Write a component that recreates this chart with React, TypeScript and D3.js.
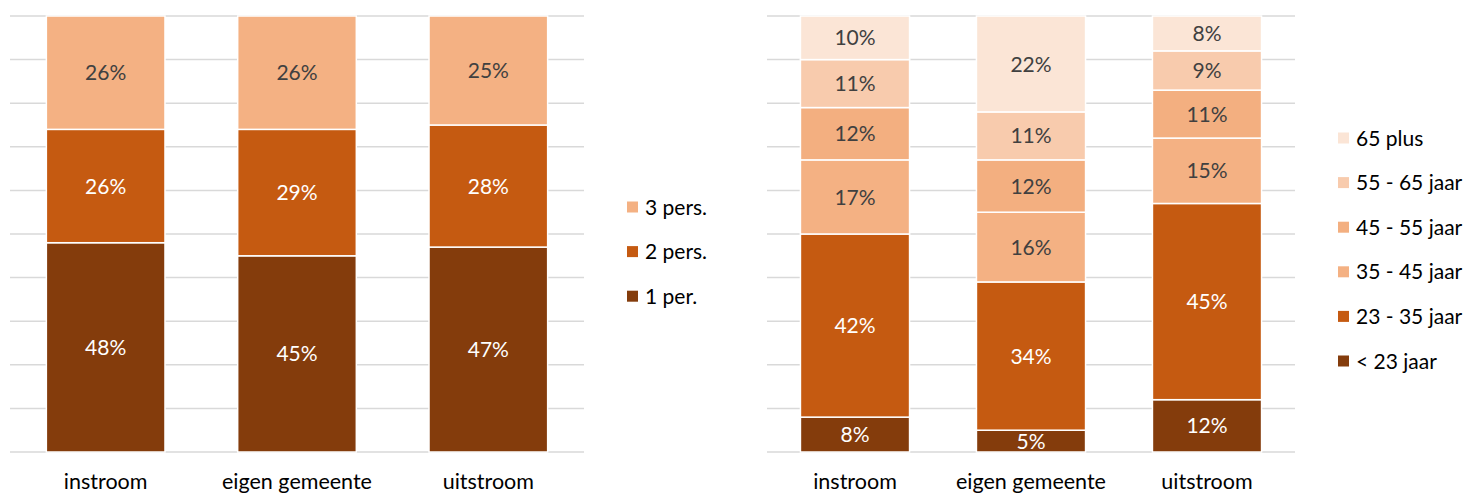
import React from "react";
import * as d3 from "d3";

const categories = ["instroom", "eigen gemeente", "uitstroom"];

// Left chart: household size
const hhSeries = ["1 per.", "2 pers.", "3 pers."];
const hhValues = [
  [48, 45, 47], // 1 per.
  [26, 29, 28], // 2 pers.
  [26, 26, 25], // 3 pers.
];
const hhColors = ["#843C0C", "#C55A11", "#F4B183"];
const hhDark = [true, true, false];

// Right chart: age groups
const ageSeries = ["< 23 jaar", "23 - 35 jaar", "35 - 45 jaar", "45 - 55 jaar", "55 - 65 jaar", "65 plus"];
const ageValues = [
  [8, 5, 12],
  [42, 34, 45],
  [17, 16, 15],
  [12, 12, 11],
  [11, 11, 9],
  [10, 22, 8],
];
const ageColors = ["#843C0C", "#C55A11", "#F4B183", "#F3AF80", "#F8CBAD", "#FBE5D6"];
const ageDark = [true, true, false, false, false, false];

const gridTicks = d3.range(0, 101, 10);

const FONT = "Lato, 'Open Sans', sans-serif";

type ChartProps = {
  x0: number;
  x1: number;
  series: string[];
  values: number[][];
  colors: string[];
  dark: boolean[];
  legendX: number;
  legendY0: number;
  clipId: string;
};

function StackChart({ x0, x1, series, values, colors, dark, legendX, legendY0, clipId }: ChartProps) {
  const y = d3.scaleLinear().domain([0, 100]).range([452, 16]);
  const x = d3
    .scaleBand<string>()
    .domain(categories)
    .range([x0, x1])
    .paddingInner(0.38)
    .paddingOuter(0.19);

  const table = categories.map((c, ci) => {
    const row: Record<string, number | string> = { cat: c };
    series.forEach((s, si) => (row[s] = values[si][ci]));
    return row;
  });
  const stacked = d3.stack<Record<string, number | string>>().keys(series)(table as any);
  const legendStep = 44.6;

  return (
    <g>
      <defs>
        <clipPath id={clipId}>
          <rect x={x0} y={y(100)} width={x1 - x0} height={y(0) - y(100) + 1} />
        </clipPath>
      </defs>
      {gridTicks.map((t) => (
        <line key={t} x1={x0} x2={x1} y1={y(t)} y2={y(t)} stroke="#D9D9D9" strokeWidth={1.5} />
      ))}
      {stacked.map((layer, si) => (
        <g key={series[si]}>
          {layer.map((d, ci) => (
            <rect
              key={ci}
              x={x(categories[ci])}
              y={y(d[1])}
              width={x.bandwidth()}
              height={y(d[0]) - y(d[1])}
              fill={colors[si]}
              stroke="#fff"
              strokeWidth={1.5}
            />
          ))}
        </g>
      ))}
      <g clipPath={`url(#${clipId})`}>
        {stacked.map((layer, si) =>
          layer.map((d, ci) => (
            <text
              key={`${si}-${ci}`}
              x={(x(categories[ci]) as number) + x.bandwidth() / 2}
              y={(y(d[0]) + y(d[1])) / 2}
              dy="0.36em"
              textAnchor="middle"
              fontFamily={FONT}
              fontSize={21}
              fill={dark[si] ? "#FFFFFF" : "#404040"}
            >
              {values[si][ci]}%
            </text>
          ))
        )}
      </g>
      {categories.map((c) => (
        <text
          key={c}
          x={(x(c) as number) + x.bandwidth() / 2}
          y={489}
          textAnchor="middle"
          fontFamily={FONT}
          fontSize={21.5}
          fill="#000"
        >
          {c}
        </text>
      ))}
      {series
        .map((s, si) => ({ s, si }))
        .reverse()
        .map(({ s, si }, i) => {
          const cy = legendY0 + i * legendStep;
          return (
            <g key={s}>
              <rect x={legendX} y={cy - 5.5} width={11} height={11} fill={colors[si]} />
              <text x={legendX + 18} y={cy} dy="0.36em" fontFamily={FONT} fontSize={21} fill="#000">
                {s}
              </text>
            </g>
          );
        })}
    </g>
  );
}

export default function App() {
  return (
    <div style={{ position: "absolute", left: 0, top: 0 }}>
      <svg width={1469} height={495} style={{ display: "block", background: "#fff" }}>
        <StackChart
          x0={10}
          x1={584}
          series={hhSeries}
          values={hhValues}
          colors={hhColors}
          dark={hhDark}
          legendX={627}
          legendY0={207}
          clipId="clipL"
        />
        <StackChart
          x0={767}
          x1={1295}
          series={ageSeries}
          values={ageValues}
          colors={ageColors}
          dark={ageDark}
          legendX={1338}
          legendY0={138}
          clipId="clipR"
        />
      </svg>
    </div>
  );
}
